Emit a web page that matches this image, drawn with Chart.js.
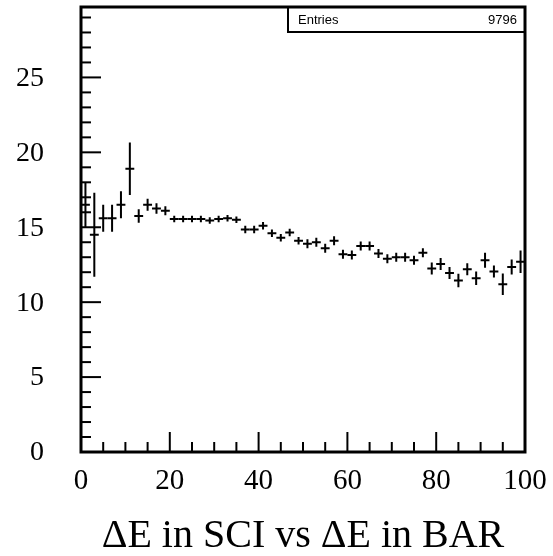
<!DOCTYPE html>
<html>
<head>
<meta charset="utf-8">
<script src="https://cdn.jsdelivr.net/npm/chart.js@4/dist/chart.umd.min.js"></script>
<style>
  html, body { margin: 0; padding: 0; background: #ffffff; }
  #wrap { width: 553px; height: 556px; }
</style>
</head>
<body>
<div id="wrap"><canvas id="c" width="553" height="556"></canvas></div>
<script>
// ---- data (profile histogram, 50 bins of width 2) ----
const binCenters = [1,3,5,7,9,11,13,15,17,19,21,23,25,27,29,31,33,35,37,39,
                    41,43,45,47,49,51,53,55,57,59,61,63,65,67,69,71,73,75,77,79,
                    81,83,85,87,89,91,93,95,97,99];
const binMeans   = [16.5,14.5,15.6,15.6,16.5,18.9,15.75,16.5,16.25,16.1,
                    15.55,15.55,15.55,15.55,15.45,15.55,15.6,15.5,14.85,14.85,
                    15.1,14.6,14.3,14.65,14.1,13.9,14.0,13.6,14.1,13.2,
                    13.15,13.75,13.75,13.25,12.9,13.0,13.0,12.8,13.3,12.25,
                    12.55,11.95,11.45,12.2,11.6,12.8,12.05,11.2,12.35,12.7];
const binErrors  = [1.5,2.8,0.9,0.9,0.9,1.75,0.45,0.4,0.35,0.3,
                    0.22,0.22,0.22,0.22,0.22,0.22,0.22,0.22,0.25,0.25,
                    0.25,0.25,0.25,0.25,0.25,0.3,0.3,0.3,0.3,0.3,
                    0.3,0.3,0.3,0.3,0.3,0.3,0.3,0.3,0.3,0.4,
                    0.4,0.4,0.45,0.4,0.45,0.5,0.4,0.72,0.5,0.75];
const binHalfWidth = 1;
const xTickLabels = ['0','20','40','60','80','100'];
const yTickLabels = ['0','5','10','15','20','25'];
const entriesLabel = 'Entries';
const entriesValue = '9796';
const axisTitle = '\u0394E in SCI vs \u0394E in BAR';

const points = binCenters.map((x, i) => ({ x: x, y: binMeans[i], e: binErrors[i] }));

const serif = '"Liberation Serif", "DejaVu Serif", serif';

const rootPlugin = {
  id: 'rootStyle',
  afterDatasetsDraw(chart) {
    const ctx = chart.ctx;
    const xs = chart.scales.x, ys = chart.scales.y;
    const a = chart.chartArea;
    ctx.save();
    ctx.strokeStyle = '#000';
    ctx.lineCap = 'butt';
    // error crosses
    ctx.lineWidth = 2;
    chart.data.datasets[0].data.forEach(p => {
      const xc = xs.getPixelForValue(p.x);
      const xl = xs.getPixelForValue(p.x - binHalfWidth);
      const xr = xs.getPixelForValue(p.x + binHalfWidth);
      const yc = ys.getPixelForValue(p.y);
      const yt = ys.getPixelForValue(p.y + p.e);
      const yb = ys.getPixelForValue(p.y - p.e);
      ctx.beginPath();
      ctx.moveTo(xl, yc); ctx.lineTo(xr, yc);
      ctx.moveTo(xc, yt); ctx.lineTo(xc, yb);
      ctx.stroke();
    });
    // inward ticks
    ctx.lineWidth = 2;
    for (let v = 0; v <= 100; v += 5) {
      const px = xs.getPixelForValue(v);
      const len = (v % 20 === 0) ? 20 : 10;
      ctx.beginPath(); ctx.moveTo(px, a.bottom); ctx.lineTo(px, a.bottom - len); ctx.stroke();
    }
    for (let v = 0; v <= 29; v += 1) {
      const py = ys.getPixelForValue(v);
      const len = (v % 5 === 0) ? 20 : 10;
      ctx.beginPath(); ctx.moveTo(a.left, py); ctx.lineTo(a.left + len, py); ctx.stroke();
    }
    // stats box
    const bx = 288, by = a.top, bw = a.right - 288, bh = 25;
    ctx.fillStyle = '#fff';
    ctx.fillRect(bx, by, bw, bh);
    ctx.lineWidth = 2;
    ctx.strokeRect(bx, by, bw, bh);
    // frame
    ctx.lineWidth = 3;
    ctx.strokeRect(a.left, a.top, a.right - a.left, a.bottom - a.top);
    ctx.fillStyle = '#000';
    ctx.font = '13px "Liberation Sans", Arial, sans-serif';
    ctx.textBaseline = 'middle';
    ctx.textAlign = 'left';
    ctx.fillText(entriesLabel, bx + 10, by + bh / 2 + 1);
    ctx.textAlign = 'right';
    ctx.fillText(entriesValue, a.right - 8, by + bh / 2 + 1);
    ctx.restore();
  }
};

new Chart(document.getElementById('c'), {
  type: 'scatter',
  data: {
    datasets: [{
      data: points,
      pointRadius: 0,
      pointHoverRadius: 0,
      showLine: false,
      borderColor: '#000',
      backgroundColor: '#000'
    }]
  },
  options: {
    responsive: false,
    animation: false,
    events: [],
    layout: { padding: { top: 7, right: 28, left: 0, bottom: 0 } },
    plugins: { legend: { display: false }, tooltip: { enabled: false }, title: { display: false } },
    scales: {
      x: {
        type: 'linear', min: 0, max: 100,
        grid: { display: false },
        border: { display: false },
        afterFit(s) { s.height = 104; s.paddingLeft = 0; s.paddingRight = 0; },
        afterBuildTicks(s) { s.ticks = xTickLabels.map(t => ({ value: Number(t) })); },
        ticks: {
          autoSkip: false, maxRotation: 0, padding: 4, color: '#000',
          font: { family: serif, size: 29 },
          callback: (v) => xTickLabels.find(t => Number(t) === v) ?? ''
        },
        title: {
          display: true, text: axisTitle, color: '#000',
          font: { family: serif, size: 40, lineHeight: 1 },
          padding: { top: 0, bottom: 0 }
        }
      },
      y: {
        type: 'linear', min: 0, max: 29.7,
        grid: { display: false },
        border: { display: false },
        afterFit(s) { s.width = 81; s.paddingTop = 0; s.paddingBottom = 0; },
        afterBuildTicks(s) { s.ticks = yTickLabels.map(t => ({ value: Number(t) })); },
        ticks: {
          autoSkip: false, padding: 29, color: '#000', labelOffset: 1,
          font: { family: serif, size: 28 },
          callback: (v) => yTickLabels.find(t => Number(t) === v) ?? ''
        }
      }
    }
  },
  plugins: [rootPlugin]
});
</script>
</body>
</html>
